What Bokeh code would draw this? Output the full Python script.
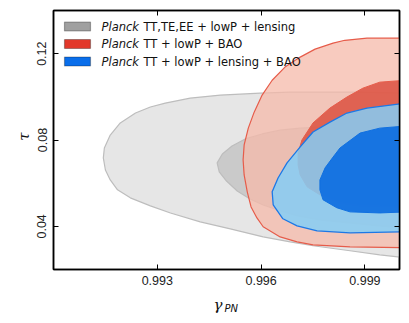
import math
from bokeh.plotting import figure
from bokeh.models import (FixedTicker, LinearAxis, PrintfTickFormatter, Label,
                          BoxAnnotation, Range1d)
from bokeh.embed import file_html
from bokeh.resources import INLINE

# ---------------- data ----------------
X_RANGE = (0.990, 1.000)
Y_RANGE = (0.02, 0.14)
X_TICKS = [0.993, 0.996, 0.999]
Y_TICKS = [0.04, 0.08, 0.12]
X_LABEL = ("γ", "PN")
Y_LABEL = "τ"

SERIES_NAMES = ["TT,TE,EE + lowP + lensing", "TT + lowP + BAO", "TT + lowP + lensing + BAO"]

# Planck TT,TE,EE + lowP + lensing  (95% and 68% contours)
gray95_gamma = [1.0002, 0.99886, 0.99770, 0.99684, 0.99597, 0.99482, 0.99395, 0.99323, 0.99280, 0.99237,
                0.99193, 0.99164, 0.99147, 0.99144, 0.99150, 0.99164, 0.99185, 0.99222, 0.99280, 0.99338,
                0.99424, 0.99511, 0.99606, 0.99684, 0.99750, 0.99857, 0.99943, 1.0002]
gray95_tau = [0.1017, 0.1022, 0.1022, 0.1022, 0.1017, 0.1008, 0.0994, 0.0971, 0.0953, 0.0925,
              0.0879, 0.0823, 0.0763, 0.0717, 0.0661, 0.0615, 0.0569, 0.0532, 0.0495, 0.0462,
              0.0421, 0.0388, 0.0351, 0.0328, 0.0310, 0.0287, 0.0268, 0.0254]
gray68_gamma = [1.0002, 0.99886, 0.99770, 0.99713, 0.99655, 0.99603, 0.99554, 0.99516, 0.99488, 0.99473,
                0.99479, 0.99500, 0.99531, 0.99568, 0.99606, 0.99655, 0.99704, 0.99770, 0.99857, 0.99943,
                1.0002]
gray68_tau = [0.0860, 0.0860, 0.0860, 0.0855, 0.0846, 0.0828, 0.0805, 0.0772, 0.0735, 0.0694,
              0.0652, 0.0610, 0.0564, 0.0527, 0.0499, 0.0472, 0.0449, 0.0430, 0.0416, 0.0402,
              0.0393]

# Planck TT + lowP + BAO
red95_gamma = [1.0002, 0.99906, 0.99842, 0.99808, 0.99756, 0.99713, 0.99669, 0.99632, 0.99603, 0.99580,
               0.99563, 0.99551, 0.99548, 0.99551, 0.99560, 0.99571, 0.99588, 0.99606, 0.99655, 0.99704,
               0.99750, 0.99857, 1.0002]
red95_tau = [0.1272, 0.1272, 0.1262, 0.1249, 0.1221, 0.1184, 0.1138, 0.1077, 0.1008, 0.0929,
             0.0855, 0.0777, 0.0708, 0.0638, 0.0560, 0.0490, 0.0439, 0.0398, 0.0351, 0.0328,
             0.0314, 0.0305, 0.0301]
red68_gamma = [1.0002, 0.99943, 0.99894, 0.99848, 0.99799, 0.99750, 0.99718, 0.99707, 0.99707, 0.99713,
               0.99733, 0.99770, 0.99828, 0.99886, 1.0002]
red68_tau = [0.1077, 0.1068, 0.1040, 0.0999, 0.0948, 0.0879, 0.0800, 0.0740, 0.0684, 0.0638,
             0.0583, 0.0546, 0.0509, 0.0495, 0.0490]

# Planck TT + lowP + lensing + BAO
blue95_gamma = [1.0002, 0.99906, 0.99848, 0.99799, 0.99750, 0.99713, 0.99675, 0.99649, 0.99632, 0.99635,
                0.99663, 0.99704, 0.99762, 0.99857, 1.0002]
blue95_tau = [0.0971, 0.0948, 0.0925, 0.0883, 0.0837, 0.0768, 0.0694, 0.0624, 0.0560, 0.0499,
              0.0435, 0.0402, 0.0379, 0.0370, 0.0375]
blue68_gamma = [1.0002, 0.99943, 0.99886, 0.99828, 0.99808, 0.99785, 0.99770, 0.99770, 0.99779, 0.99819,
                0.99857, 0.99943, 1.0002]
blue68_tau = [0.0865, 0.0855, 0.0832, 0.0763, 0.0721, 0.0671, 0.0615, 0.0569, 0.0523, 0.0486,
              0.0467, 0.0462, 0.0467]

# ---------------- layout / styles ----------------
W, H = 405, 319
BL, BR, BT, BB = 53, 6, 10, 50
FW, FH = W - BL - BR, H - BT - BB

def fx(px):
    return X_RANGE[0] + px * (X_RANGE[1] - X_RANGE[0]) / FW

def fy(py):
    return Y_RANGE[1] - py * (Y_RANGE[1] - Y_RANGE[0]) / FH

p = figure(width=W, height=H, output_backend="svg", toolbar_location=None,
           x_range=Range1d(*X_RANGE), y_range=Range1d(*Y_RANGE),
           min_border_left=BL, min_border_right=BR, min_border_top=BT, min_border_bottom=BB,
           x_axis_location=None, y_axis_location=None)
p.grid.visible = False
p.outline_line_color = "black"
p.outline_line_width = 1.5
p.background_fill_color = "white"
p.border_fill_color = "white"

TICK_FONT = "Liberation Sans"

def make_axis(ticks, fmt, labels=True, orient="horizontal", standoff=6):
    ax = LinearAxis(ticker=FixedTicker(ticks=ticks), formatter=PrintfTickFormatter(format=fmt))
    ax.major_tick_in = 5
    ax.major_tick_out = 0
    ax.major_tick_line_color = "black"
    ax.major_tick_line_width = 1
    ax.minor_tick_line_color = None
    ax.axis_line_color = "black"
    ax.axis_line_width = 1.5
    ax.major_label_text_font = TICK_FONT
    if labels:
        ax.major_label_text_color = "#222222"
        ax.major_label_text_font_size = "12.5px"
        ax.major_label_standoff = standoff
        ax.major_label_orientation = orient
    else:
        ax.major_label_text_color = None
        ax.major_label_text_font_size = "1px"
        ax.major_label_standoff = 0
    return ax

p.add_layout(make_axis(X_TICKS, "%.3f", True, "horizontal", 6), "below")
p.add_layout(make_axis(Y_TICKS, "%.2f", True, "vertical", 7), "left")
p.add_layout(make_axis(X_TICKS, "%.3f", False), "above")
p.add_layout(make_axis(Y_TICKS, "%.2f", False), "right")

GRAY_LINE = "#bdbdbd"
RED_LINE = "#e65c4a"
BLUE_LINE = "#1c78e6"

p.patch(gray95_gamma, gray95_tau, fill_color="#e6e6e6", fill_alpha=1.0, line_color=GRAY_LINE, line_width=1.2)
p.patch(gray68_gamma, gray68_tau, fill_color="#cacaca", fill_alpha=1.0, line_color=GRAY_LINE, line_width=1.2)
p.patch(red95_gamma, red95_tau, fill_color="#f6b9a9", fill_alpha=0.75, line_color=RED_LINE, line_width=1.2)
p.patch(red68_gamma, red68_tau, fill_color="#dc5040", fill_alpha=0.85, line_color=RED_LINE, line_width=1.0)
p.patch(blue95_gamma, blue95_tau, fill_color="#85cef6", fill_alpha=0.85, line_color=BLUE_LINE, line_width=1.3)
p.patch(blue68_gamma, blue68_tau, fill_color="#1170e0", fill_alpha=0.95, line_color="#1170e0", line_width=1.0)

# legend (drawn manually so that "Planck" can be italic)
SWATCH_COLORS = ["#a0a0a0", "#e2382a", "#0a6eea"]
LEG_ROWS = [16, 33.5, 51]
LEG_FONT = "DejaVu Sans"
for name, col, row in zip(SERIES_NAMES, SWATCH_COLORS, LEG_ROWS):
    p.add_layout(BoxAnnotation(left=fx(11), right=fx(37), top=fy(row - 4.5), bottom=fy(row + 4.5),
                               fill_color=col, fill_alpha=1.0, line_color="black", line_width=1.2,
                               level="overlay"))
    p.add_layout(Label(x=fx(48), y=fy(row), text="Planck", text_font=LEG_FONT,
                       text_font_style="italic", text_font_size="11.5px", text_baseline="middle",
                       text_color="#111111"))
    p.add_layout(Label(x=fx(90), y=fy(row), text=name, text_font=LEG_FONT,
                       text_font_size="11.5px", text_baseline="middle", text_color="#111111"))

# axis labels, placed in the side panels (canvas pixel positions)
p.add_layout(Label(x=213, y=304, x_units="canvas", y_units="canvas", text=X_LABEL[0],
                   text_font="DejaVu Serif", text_font_style="italic", text_font_size="15px",
                   text_baseline="alphabetic", text_color="#111111"), "below")
p.add_layout(Label(x=224, y=308, x_units="canvas", y_units="canvas", text=X_LABEL[1],
                   text_font="DejaVu Sans", text_font_style="italic", text_font_size="10px",
                   text_baseline="alphabetic", text_color="#111111"), "below")
p.add_layout(Label(x=23, y=136, x_units="canvas", y_units="canvas", text=Y_LABEL,
                   text_font="DejaVu Serif", text_font_style="italic", text_font_size="15px",
                   text_baseline="alphabetic", text_align="center", angle=math.pi / 2,
                   text_color="#111111"), "left")

open("out.html", "w").write(file_html(p, INLINE))
